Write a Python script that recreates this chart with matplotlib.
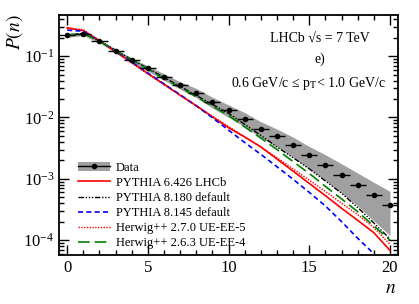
import numpy as np
import matplotlib
matplotlib.use("Agg")
import matplotlib.pyplot as plt
from matplotlib.lines import Line2D
from matplotlib.patches import Patch
from matplotlib.ticker import MultipleLocator, LogLocator, NullFormatter

plt.rcParams['font.family'] = ['Liberation Serif', 'DejaVu Serif']
plt.rcParams['mathtext.fontset'] = 'stix'

# multiplicity bins
n = np.arange(0, 21)

# LHCb data and relative systematic uncertainty (grey band)
data = [0.22, 0.23, 0.176, 0.122, 0.086, 0.063, 0.046, 0.0335, 0.0254, 0.0178,
        0.013, 0.0095, 0.0066, 0.0049, 0.0035, 0.0024, 0.0017, 0.00117, 0.0008,
        0.00054, 0.00037]
sys_rel = [0.08, 0.06, 0.06, 0.07, 0.08, 0.10, 0.12, 0.14, 0.17, 0.20, 0.23,
           0.26, 0.29, 0.32, 0.36, 0.40, 0.45, 0.50, 0.55, 0.62, 0.68]
stat_rel = [0.01, 0.01, 0.01, 0.01, 0.01, 0.01, 0.01, 0.015, 0.015, 0.02, 0.02,
            0.02, 0.025, 0.03, 0.03, 0.035, 0.04, 0.05, 0.06, 0.07, 0.08]

# generator predictions
py6_lhcb = [0.29, 0.26, 0.178, 0.118, 0.079, 0.052, 0.035, 0.023, 0.0155, 0.0102,
            0.0068, 0.0048, 0.0033, 0.0021, 0.00133, 0.00084, 0.00053, 0.00033,
            0.00021, 0.000132, 0.000068]
py8_180 = [0.215, 0.235, 0.178, 0.125, 0.088, 0.063, 0.045, 0.032, 0.0228, 0.0163,
           0.0117, 0.0077, 0.0051, 0.0033, 0.0022, 0.00145, 0.00092, 0.00058,
           0.00034, 0.00019, 0.000105]
py8_145 = [0.265, 0.255, 0.178, 0.12, 0.08, 0.053, 0.035, 0.0235, 0.0155, 0.0099,
           0.0062, 0.0039, 0.0025, 0.00157, 0.00098, 0.0006, 0.00036, 0.0002,
           0.000107, 0.00006, 0.000032]
hw270 = [0.28, 0.27, 0.18, 0.117, 0.077, 0.051, 0.034, 0.023, 0.0155, 0.0105,
         0.0071, 0.0048, 0.0033, 0.0022, 0.00145, 0.00095, 0.00062, 0.0004,
         0.00026, 0.00016, 0.000085]
hw263 = [0.22, 0.235, 0.175, 0.124, 0.087, 0.062, 0.043, 0.031, 0.0216, 0.0153,
         0.0108, 0.007, 0.0046, 0.003, 0.0019, 0.00122, 0.00075, 0.00047,
         0.00029, 0.00017, 0.0001]

data = np.array(data)
sys_lo = data * (1 - np.array(sys_rel))
sys_hi = data * (1 + np.array(sys_rel))

fig = plt.figure(figsize=(4.19, 3.04), dpi=100)
ax = fig.add_axes([0.141, 0.161, 0.809, 0.790])

ax.fill_between(n, sys_lo, sys_hi, color='#a0a0a0', lw=0)
ax.errorbar(n, data, xerr=0.5, yerr=data * np.array(stat_rel), fmt='o', color='k',
            ms=3, lw=1, capsize=0, zorder=5)

ax.plot(n, py6_lhcb, color='red', lw=1.2)
ax.plot(n, py8_180, color='k', lw=1.0, dashes=(4, 1.2, 1, 1.2, 1, 1.2, 1, 1.2))
ax.plot(n, py8_145, color='blue', lw=1.2, dashes=(3, 2))
ax.plot(n, hw270, color='red', lw=1.0, dashes=(1, 1))
ax.plot(n, hw263, color='green', lw=1.2, dashes=(7, 3))

ax.set_yscale('log')
ax.set_xlim(-0.5, 20.5)
ax.set_ylim(5.7e-5, 0.47)
ax.xaxis.set_major_locator(MultipleLocator(5))
ax.xaxis.set_minor_locator(MultipleLocator(1))
ax.yaxis.set_minor_locator(LogLocator(base=10, subs=np.arange(2, 10)))
ax.yaxis.set_minor_formatter(NullFormatter())
ax.tick_params(which='both', direction='in', top=True, right=True, labelsize=12, width=1)
ax.tick_params(which='major', length=7)
ax.tick_params(which='minor', length=3.5)
for s in ax.spines.values():
    s.set_linewidth(1.3)

fig.text(0.035, 0.895, r'$P(n)$', rotation=90, ha='center', va='center', fontsize=14)
fig.text(0.933, 0.052, r'$n$', ha='center', va='center', fontsize=14)

ax.text(0.77, 0.885, 'LHCb √s = 7 TeV', transform=ax.transAxes, ha='center', fontsize=10)
ax.text(0.77, 0.80, 'e)', transform=ax.transAxes, ha='center', fontsize=10)
ax.text(0.735, 0.70, r'0.6 GeV/c ≤ p$_\mathrm{T}$< 1.0 GeV/c', transform=ax.transAxes,
        ha='center', fontsize=10)

h_data = (Patch(facecolor='#a0a0a0', edgecolor='none'),
          Line2D([], [], color='k', marker='o', ms=3, lw=1))
handles = [h_data,
           Line2D([], [], color='red', lw=1.2),
           Line2D([], [], color='k', lw=1.0, dashes=(4, 1.2, 1, 1.2, 1, 1.2, 1, 1.2)),
           Line2D([], [], color='blue', lw=1.2, dashes=(3, 2)),
           Line2D([], [], color='red', lw=1.0, dashes=(1, 1)),
           Line2D([], [], color='green', lw=1.2, dashes=(7, 3))]
labels = ['Data', 'PYTHIA 6.426 LHCb', 'PYTHIA 8.180 default', 'PYTHIA 8.145 default',
          'Herwig++ 2.7.0 UE-EE-5', 'Herwig++ 2.6.3 UE-EE-4']
ax.legend(handles, labels, loc='upper left', bbox_to_anchor=(0.03, 0.425), frameon=False,
          fontsize=9, handlelength=2.56, handletextpad=0.48, labelspacing=0.25,
          borderpad=0.2)

fig.savefig('out.png', dpi=100)
